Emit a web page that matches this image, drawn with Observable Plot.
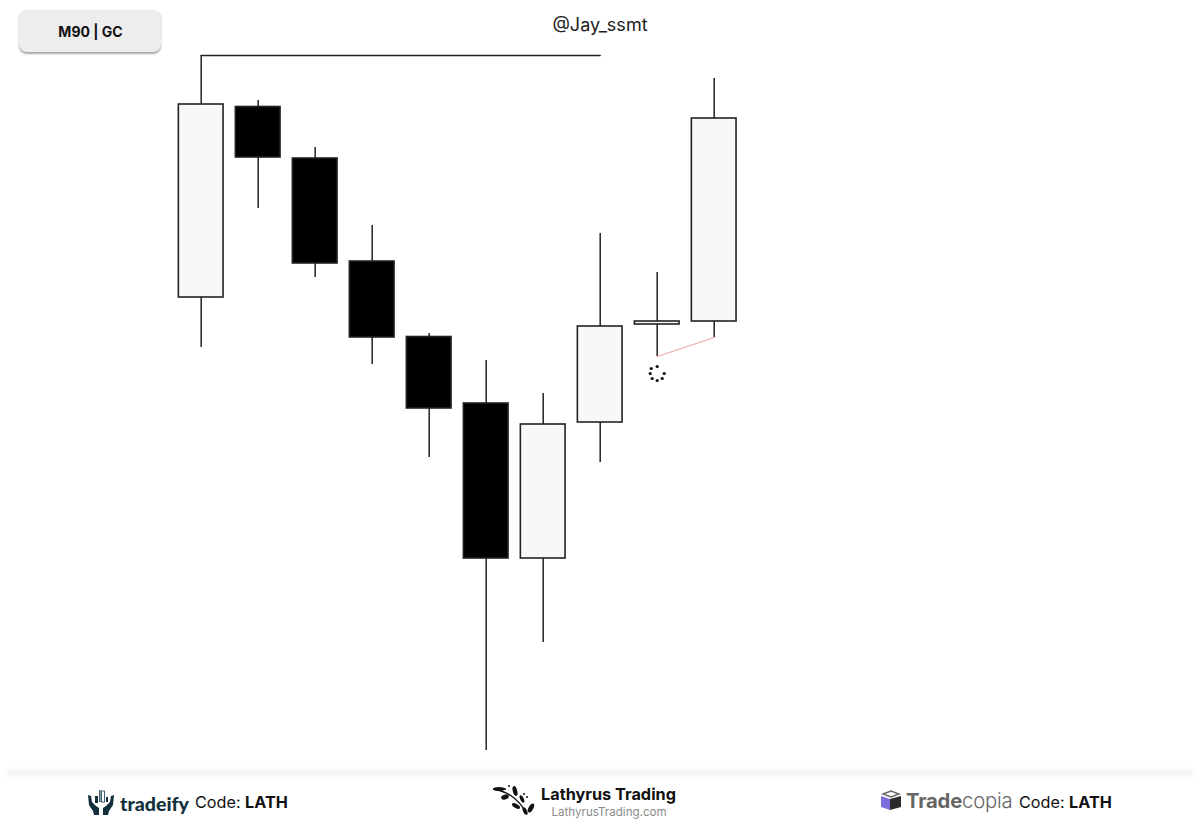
<!DOCTYPE html>
<html><head><meta charset="utf-8">
<script src="https://cdn.jsdelivr.net/npm/d3@7"></script>
<script src="https://cdn.jsdelivr.net/npm/@observablehq/plot@0.6"></script>
<style>
html,body{margin:0;padding:0;background:#fff;width:1200px;height:834px;overflow:hidden;font-family:Inter,"Noto Sans",sans-serif}
#wrap{position:relative;width:1200px;height:834px}
#wrap svg.plot{display:block;position:absolute;left:0;top:0}
.abs{position:absolute;white-space:nowrap}
#badge{left:19px;top:10px;width:142px;height:42px;border-radius:8px;background:#ededed;box-shadow:0 1.5px 2px rgba(0,0,0,.35);display:flex;align-items:center;justify-content:center;font-weight:700;font-size:14px;color:#111;padding-left:1px;box-sizing:border-box}
#title{left:500px;width:200px;top:14px;text-align:center;font-size:18px;color:#222}
#rule{left:6px;width:1188px;top:770px;height:6px;background:#f3f3f3;filter:blur(2px)}
.foot{font-size:16.2px;color:#111}
.foot b{font-weight:700}
</style></head><body>
<div id="wrap">
<div id="rule" class="abs"></div>
<div id="badge" class="abs">M90 | GC</div>
<div id="title" class="abs">@Jay_ssmt</div>

<svg class="abs" style="left:87px;top:788px" width="28" height="27" viewBox="0 0 28 27">
 <g fill="#12303b">
  <path d="M1 7 L4 8 L5 14 L9 18 L12 20 L12 27 L7 27 L6 23 L2 17 Z"/>
  <path d="M27 7 L24 8 L23 14 L19 18 L16 20 L16 27 L21 27 L22 23 L26 17 Z"/>
  <rect x="8" y="8" width="3" height="7"/><rect x="12" y="2" width="1.6" height="12" fill="#3d6070"/>
  <rect x="14.5" y="3" width="3" height="11" fill="none" stroke="#3d6070" stroke-width="1"/><rect x="19" y="9" width="2" height="5"/>
 </g>
</svg>
<div class="abs" style="left:120px;top:792px;font-family:Lato,Inter;font-weight:900;font-size:19.6px;color:#12303b;">tradeify</div>
<div class="abs foot" style="left:195px;top:792px">Code: <b>LATH</b></div>

<svg class="abs" style="left:491px;top:784px" width="44" height="34" viewBox="0 0 44 34">
 <path d="M2 5 C14 7 26 12 36 30" fill="none" stroke="#111" stroke-width="1.4"/>
 <g fill="#111">
  <ellipse cx="8" cy="5" rx="6" ry="2"/><ellipse cx="24" cy="7" rx="2.2" ry="5" transform="rotate(-15 24 7)"/>
  <ellipse cx="14" cy="13" rx="4" ry="2.5" transform="rotate(-20 14 13)"/><ellipse cx="31" cy="15" rx="1.8" ry="4" transform="rotate(-25 31 15)"/>
  <ellipse cx="25" cy="22" rx="4.5" ry="2" transform="rotate(30 25 22)"/><ellipse cx="40" cy="24" rx="2.3" ry="5" transform="rotate(30 40 24)"/>
  <ellipse cx="34" cy="27" rx="2" ry="4" transform="rotate(-25 34 27)"/>
  <circle cx="18" cy="2" r="1"/><circle cx="14" cy="5" r="1"/><circle cx="33" cy="10" r="1"/><circle cx="36" cy="13" r="1"/>
 </g>
</svg>
<div class="abs" style="left:541px;top:784px;font-weight:700;font-size:16.3px;color:#111">Lathyrus Trading</div>
<div class="abs" style="left:551.5px;top:805px;font-size:11.6px;color:#8a8a8a">LathyrusTrading.com</div>

<svg class="abs" style="left:880px;top:790px" width="22" height="21" viewBox="0 0 22 21">
 <path d="M1 6 L10 9 L10 20 L1 17 Z" fill="#7b6fe0"/>
 <path d="M10 9 L21 6 L21 17 L10 20 Z" fill="#2b2b2b"/>
 <path d="M3 4 L11 1 L19 4 L11 7 Z" fill="none" stroke="#666" stroke-width="1.4"/>
</svg>
<div class="abs" style="left:906px;top:788px;font-size:20.3px;color:#666;letter-spacing:-.2px"><span style="font-weight:700">Trade</span><span style="font-weight:300">copia</span></div>
<div class="abs foot" style="left:1019px;top:792px">Code: <b>LATH</b></div>
</div>
<script>
// Prices on an arbitrary vertical scale (the chart shows no price axis)
const bar    = [0, 1, 2, 3, 4, 5, 6, 7, 8, 9];
const open   = [537, 727.5, 676, 573, 497.5, 431, 276, 412, 510, 513];
const close  = [730, 677, 571, 497, 426, 276, 410, 508, 513, 716];
const high   = [779, 734, 687, 609, 501, 474, 441, 601, 562, 756];
const low    = [487, 626, 557, 470, 377, 84, 192, 372, 478, 497];

// Swing line from the first candle to the eighth, and the pink link between two lows
const swingBars = [0, 7];
const swingLevel = 779;
const linkBars = [8, 9];
const linkPrices = [478, 497];

// Loading spinner dots below candle 8
const spinnerBars   = [8.0, 7.895, 7.877, 7.912, 8.0, 8.088, 8.123];
const spinnerPrices = [468, 466, 461, 456, 454, 456, 461];

const candles = bar.map((b, i) => ({b, open: open[i], close: close[i], high: high[i], low: low[i]}));
const halfBody = 0.392;

const chart = Plot.plot({
  width: 1200, height: 834,
  margin: 0,
  style: {background: "transparent", overflow: "visible"},
  x: {domain: [-200.7 / 57, 999.3 / 57], axis: null},
  y: {domain: [0, 834], axis: null},
  marks: [
    Plot.ruleX(candles, {x: "b", y1: "low", y2: "high", stroke: "#222", strokeWidth: 1.5}),
    Plot.line(swingBars.map(b => ({b, p: swingLevel})), {x: "b", y: "p", stroke: "#222", strokeWidth: 1.5}),
    Plot.line(linkBars.map((b, i) => ({b, p: linkPrices[i]})), {x: "b", y: "p", stroke: "#f4a6ae", strokeWidth: 1.2}),
    Plot.rect(candles, {
      x1: d => d.b - halfBody, x2: d => d.b + halfBody,
      y1: "open", y2: "close",
      fill: d => d.close > d.open ? "#f8f8f8" : "#000",
      stroke: "#222", strokeWidth: 1.6
    }),
    Plot.dot(spinnerBars.map((b, i) => ({b, p: spinnerPrices[i]})), {x: "b", y: "p", r: 1.6, fill: "#111"})
  ]
});
document.getElementById("wrap").prepend(chart);
</script>
</body></html>
